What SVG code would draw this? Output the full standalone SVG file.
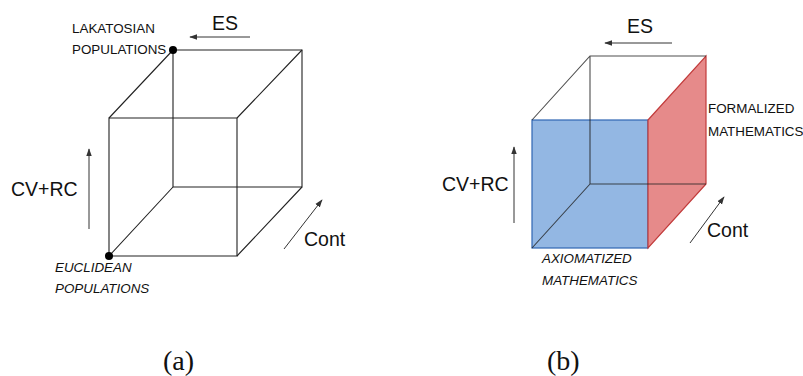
<svg xmlns="http://www.w3.org/2000/svg" width="803" height="376" viewBox="0 0 803 376">
<style>
.e{stroke:#222;stroke-width:1.1;fill:none}
.ax{stroke:#333;stroke-width:1;fill:none}
.t{font-family:"Liberation Sans",Arial,sans-serif;fill:#111}
.s{font-size:13.4px}
.i{font-style:italic}
.big{font-size:19.5px}
.cap{font-family:"Liberation Serif","Times New Roman",serif;font-size:28px;fill:#111}
</style>
<defs>
<marker id="ah" viewBox="0 0 10 10" refX="9" refY="5" markerWidth="8" markerHeight="8" markerUnits="userSpaceOnUse" orient="auto">
<path d="M0,1.5 L10,5 L0,8.5 Z" fill="#333"/>
</marker>
</defs>
<g id="cube-a">
<path class="e" d="M173,50 H302 V187 H173 Z"/>
<path class="e" d="M109,118 H237 V256 H109 Z"/>
<path class="e" d="M173,50 L109,118 M302,50 L237,118 M302,187 L237,256 M173,187 L109,256"/>
<circle cx="173" cy="50" r="4" fill="#000"/>
<circle cx="109" cy="256" r="4" fill="#000"/>
</g>
<g id="labels-a">
<text class="t s" x="72" y="33">LAKATOSIAN</text>
<text class="t s" x="72" y="54">POPULATIONS</text>
<text class="t s i" x="55" y="272">EUCLIDEAN</text>
<text class="t s i" x="55" y="293">POPULATIONS</text>
<text class="t big" x="212" y="30">ES</text>
<text class="t big" x="11" y="196">CV+RC</text>
<text class="t big" x="304" y="246">Cont</text>
<text class="cap" x="163" y="370">(a)</text>
</g>
<g id="cube-b">
<rect x="532" y="120" width="116" height="128" fill="#93b7e3" stroke="#2f66b3" stroke-width="1.2"/>
<path d="M648,120 L706,56 V184 L648,248 Z" fill="#e68a8a" stroke="#c23b3b" stroke-width="1.2"/>
<path class="e" d="M532,120 L590,56 H706 M590,56 V184 H706 M590,184 L532,248" stroke-opacity="0.8"/>
</g>
<g id="labels-b">
<text class="t s" x="708" y="113">FORMALIZED</text>
<text class="t s" x="708" y="136">MATHEMATICS</text>
<text class="t s i" x="542" y="263">AXIOMATIZED</text>
<text class="t s i" x="542" y="285">MATHEMATICS</text>
<text class="t big" x="627" y="33">ES</text>
<text class="t big" x="442" y="191">CV+RC</text>
<text class="t big" x="707" y="237">Cont</text>
<text class="cap" x="547" y="370">(b)</text>
</g>
<g id="connectors">
<path class="ax" d="M250,37 H190" marker-end="url(#ah)"/>
<path class="ax" d="M89,229 V149" marker-end="url(#ah)"/>
<path class="ax" d="M284,249 L322,200" marker-end="url(#ah)"/>
<path class="ax" d="M672,43 H605" marker-end="url(#ah)"/>
<path class="ax" d="M514,223 V147" marker-end="url(#ah)"/>
<path class="ax" d="M690,243 L724,197" marker-end="url(#ah)"/>
</g>
</svg>
